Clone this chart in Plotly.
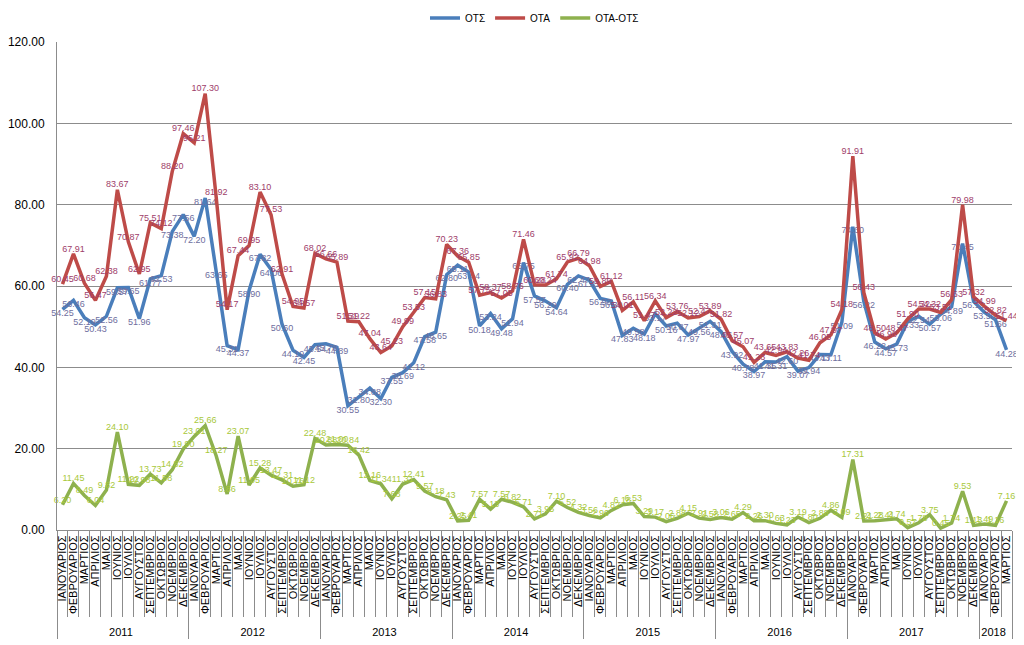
import plotly.graph_objects as go

years = ["2011"] * 12 + ["2012"] * 12 + ["2013"] * 12 + ["2014"] * 12 + ["2015"] * 12 + ["2016"] * 12 + ["2017"] * 12 + ["2018"] * 3
month_names = ["ΙΑΝΟΥΑΡΙΟΣ", "ΦΕΒΡΟΥΑΡΙΟΣ", "ΜΑΡΤΙΟΣ", "ΑΠΡΙΛΙΟΣ", "ΜΑΙΟΣ", "ΙΟΥΝΙΟΣ",
               "ΙΟΥΛΙΟΣ", "ΑΥΓΟΥΣΤΟΣ", "ΣΕΠΤΕΜΒΡΙΟΣ", "ΟΚΤΩΒΡΙΟΣ", "ΝΟΕΜΒΡΙΟΣ", "ΔΕΚΕΜΒΡΙΟΣ"]
months = month_names * 7 + month_names[:3]

ots = [54.25, 56.46, 52.19, 50.43, 52.56, 59.57, 59.65, 51.96, 61.77, 62.53, 73.38, 77.56,
       72.20, 81.64, 63.65, 45.31, 44.37, 58.90, 67.82, 64.06, 50.60, 44.19, 42.45, 45.54,
       45.78, 44.89, 30.55, 32.80, 34.88, 32.30, 37.55, 38.69, 41.12, 47.58, 48.65, 62.80,
       65.11, 63.44, 50.18, 53.24, 49.48, 51.94, 65.75, 57.57, 56.29, 54.64, 60.40, 62.47,
       61.42, 56.93, 56.30, 47.83, 49.58, 48.18, 53.17, 50.16, 50.87, 47.97, 49.56, 51.31,
       48.76, 43.92, 40.78, 38.97, 41.35, 41.31, 42.60, 39.07, 39.94, 43.17, 43.11, 51.09,
       74.60, 56.22, 46.22, 44.57, 45.73, 51.33, 52.54, 50.57, 53.06, 54.89, 70.45, 56.19,
       53.50, 51.66, 44.28]
ota = [60.45, 67.91, 60.68, 56.47, 62.38, 83.67, 70.87, 62.95, 75.51, 74.12, 88.20, 97.46,
       95.21, 107.30, 81.92, 54.17, 67.44, 69.95, 83.10, 77.53, 62.91, 54.95, 54.57, 68.02,
       66.66, 65.89, 51.39, 51.22, 47.04, 43.64, 45.23, 49.99, 53.53, 57.15, 56.83, 70.23,
       67.36, 65.85, 57.75, 58.37, 57.05, 58.76, 71.46, 60.28, 60.24, 61.74, 65.92, 66.79,
       64.98, 59.89, 61.12, 54.01, 56.11, 51.47, 56.34, 52.22, 53.76, 52.12, 52.47, 53.89,
       51.82, 46.57, 45.07, 41.23, 43.65, 42.94, 43.83, 42.26, 41.74, 46.05, 47.97, 54.18,
       91.91, 58.43, 48.50, 46.98, 48.47, 51.90, 54.32, 54.32, 53.51, 56.63, 79.98, 57.32,
       54.99, 52.82, 51.44]
diff = [6.20, 11.45, 8.49, 6.04, 9.82, 24.10, 11.22, 10.98, 13.73, 11.58, 14.82, 19.90,
        23.01, 25.66, 18.27, 8.86, 23.07, 11.05, 15.28, 13.47, 12.31, 10.76, 11.12, 22.48,
        20.88, 21.00, 20.84, 18.42, 12.16, 11.34, 7.68, 11.31, 12.41, 9.57, 8.18, 7.43,
        2.25, 2.41, 7.57, 5.13, 7.57, 6.82, 5.71, 2.71, 3.95, 7.10, 5.52, 4.32,
        3.56, 2.96, 4.82, 6.18, 6.53, 3.29, 3.17, 2.06, 2.88, 4.15, 2.91, 2.58,
        3.06, 2.65, 4.29, 2.26, 2.30, 1.63, 1.23, 3.19, 1.80, 2.88, 4.86, 3.09,
        17.31, 2.21, 2.28, 2.41, 2.74, 0.57, 1.78, 3.75, 0.45, 1.74, 9.53, 1.13,
        1.49, 1.16, 7.16]

x = [years, months]
lab_font = "Liberation Sans, Arial, sans-serif"

fig = go.Figure()
fig.add_trace(go.Scatter(
    x=x, y=ots, name="ΟΤΣ", mode="lines+text", cliponaxis=False,
    line=dict(color="#4A7EBB", width=3.5),
    text=[f"{v:.2f}" for v in ots], textposition="bottom center",
    textfont=dict(size=9, color="#6E6E9E", family=lab_font),
))
fig.add_trace(go.Scatter(
    x=x, y=ota, name="ΟΤΑ", mode="lines+text", cliponaxis=False,
    line=dict(color="#BE4B48", width=3.5),
    text=[f"{v:.2f}" for v in ota], textposition="top center",
    textfont=dict(size=9, color="#9E3D6A", family=lab_font),
))
fig.add_trace(go.Scatter(
    x=x, y=diff, name="ΟΤΑ-ΟΤΣ", mode="lines+text", cliponaxis=False,
    line=dict(color="#8EB14E", width=3.5),
    text=[f"{v:.2f}" for v in diff], textposition="top center",
    textfont=dict(size=9, color="#A8C83A", family=lab_font),
))

W, H = 1016, 637
fig.update_layout(
    width=W, height=H,
    margin=dict(l=49, r=12, t=34, b=115, autoexpand=False),
    paper_bgcolor="white", plot_bgcolor="white",
    font=dict(family=lab_font, size=11, color="#000000"),
    legend=dict(orientation="h", x=0.5, xanchor="center",
                yref="container", y=1 - 10 / H, yanchor="middle",
                font=dict(size=10, color="#000000"), traceorder="normal",
                itemwidth=30),
    showlegend=True,
)
fig.update_yaxes(
    range=[0, 120], dtick=20, tickformat=".2f",
    showgrid=True, gridcolor="#8C8C8C", gridwidth=1,
    showline=True, linecolor="#8C8C8C", linewidth=1,
    ticks="outside", ticklen=9, tickcolor="rgba(0,0,0,0)",
    tickfont=dict(size=12, color="#000000"),
    zeroline=False, automargin=False,
)
fig.update_xaxes(
    type="multicategory", tickangle=-90,
    range=[-0.5, len(months) - 0.5],
    tickmode="linear", tick0=0, dtick=1,
    showline=True, linecolor="#8C8C8C", linewidth=1,
    ticks="outside", tickson="boundaries", ticklen=86, tickcolor="#8C8C8C",
    showdividers=True, dividercolor="#8C8C8C", dividerwidth=1,
    tickfont=dict(size=11, color="#000000"),
    showgrid=False, automargin=False,
)

fig.write_html("out.html")
